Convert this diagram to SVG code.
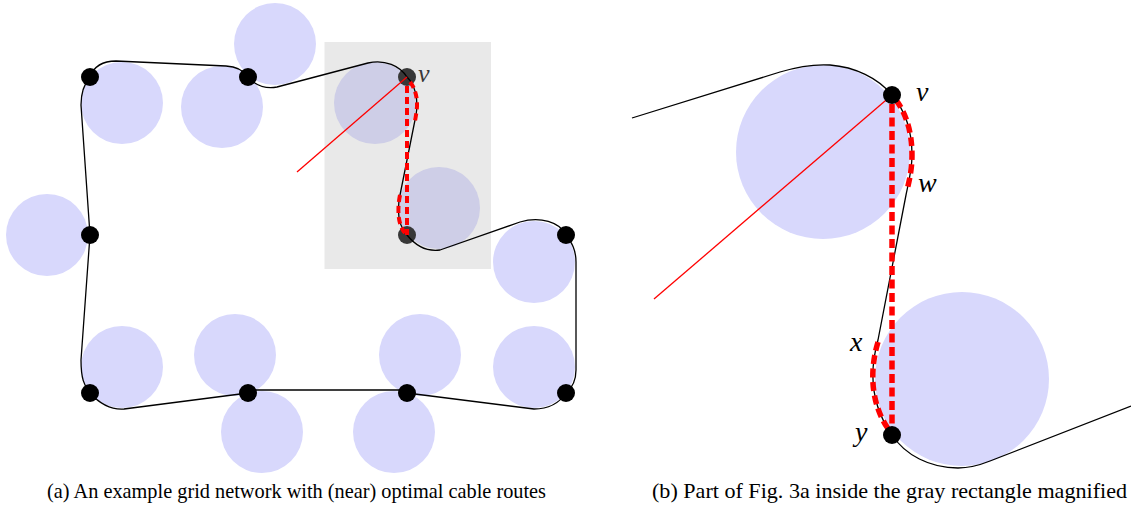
<svg xmlns="http://www.w3.org/2000/svg" width="1131" height="508" viewBox="0 0 1131 508">
<style>
.disk{fill:#d8d8fc}
.node{fill:#000}
.cable{fill:none;stroke:#000;stroke-width:1.3;stroke-linejoin:round}
.ray{fill:none;stroke:#ff0000;stroke-width:1.3}
.dashA{fill:none;stroke:#ff0000;stroke-width:4;stroke-dasharray:7 4}
.dashB{fill:none;stroke:#ff0000;stroke-width:5.5;stroke-dasharray:9 4.5}
.math{font-style:italic;fill:#000}
.cap{font-size:20.3px;fill:#000}
</style>
<rect width="1131" height="508" fill="#fff"/>

<g id="panel-a-disks">
<circle class="disk" cx="275" cy="44" r="41"/>
<circle class="disk" cx="122" cy="103" r="41"/>
<circle class="disk" cx="222" cy="107" r="41"/>
<circle class="disk" cx="375" cy="103" r="41"/>
<circle class="disk" cx="439" cy="208" r="41"/>
<circle class="disk" cx="47" cy="235" r="41"/>
<circle class="disk" cx="534" cy="262" r="41"/>
<circle class="disk" cx="122" cy="367" r="41"/>
<circle class="disk" cx="235" cy="355" r="41"/>
<circle class="disk" cx="262" cy="432" r="41"/>
<circle class="disk" cx="420" cy="355" r="41"/>
<circle class="disk" cx="394" cy="432" r="41"/>
<circle class="disk" cx="534" cy="367" r="41"/>
</g>

<g id="panel-b-disks">
<circle class="disk" cx="823" cy="152" r="87"/>
<circle class="disk" cx="962" cy="379" r="87"/>
</g>

<g id="panel-a-nodes">
<circle id="a1" class="node" cx="90" cy="77" r="9"/>
<circle id="a2" class="node" cx="248" cy="77" r="9"/>
<circle id="a3" class="node" cx="407" cy="77" r="9"/>
<circle id="a4" class="node" cx="90" cy="235" r="9"/>
<circle id="a5" class="node" cx="407" cy="235" r="9"/>
<circle id="a6" class="node" cx="566" cy="235" r="9"/>
<circle id="a7" class="node" cx="90" cy="393" r="9"/>
<circle id="a8" class="node" cx="248" cy="393" r="9"/>
<circle id="a9" class="node" cx="407" cy="393" r="9"/>
<circle id="a10" class="node" cx="566" cy="393" r="9"/>
<text class="math" x="418" y="82" font-size="26" font-family="Liberation Serif">v</text>
</g>

<rect id="gray-rect" x="324.5" y="42" width="166.5" height="227" fill="#b7b7b7" fill-opacity="0.306"/>

<g id="connectors">
<path class="cable" d="M90,77 C94,66 104,61 116,61 L226,66 C236,66.5 244,71 248,77 C255,85 265,89 277,87 L368,63 C385,59 400,66 407,77 C414,84 419,97 416,115 L400,195 C397,210 398,225 407,235 C415,245 425,252 440,250 L520,222 C540,216 560,222 566,235 C572,243 576,250 576,262 L576,370 C576,380 572,388 566,393 C560,402 550,409 534,409 L407,393 L402,390 L254,390 L248,393 L124,409 C110,410 99,403 90,393 C84,386 81,378 81,360 L90,235 L81,105 C81,92 84,84 90,77 Z"/>
<path class="dashA" d="M407,86 L407,235"/>
<path class="dashA" d="M410,82 C415,88 419,99 416,115 L415,121"/>
<path class="dashA" d="M400,195 C397,210 398,225 405,233"/>
<path class="ray" d="M407,77 L297,172"/>

<path class="cable" d="M632,118 L780,72 C800,66 815,64 830,65 C855,67 878,78 892,95 C903,108 912,128 912,155 C912,170 908,185 906,195 L878,340 C869,372 871,405 892,435 C905,455 930,468 958,468 C970,468 980,465 990,461 L1131,406"/>
<path class="dashB" d="M892,104 L892,428"/>
<path class="dashB" d="M896,100 C905,112 912,130 912,155 C912,170 909,182 907,190"/>
<path class="dashB" d="M878,342 C869,372 871,405 889,430"/>
<path class="ray" d="M892,95 L654,299"/>
</g>

<g id="panel-b-nodes" font-family="Liberation Serif">
<circle id="bv" class="node" cx="892" cy="95" r="9"/>
<circle id="by" class="node" cx="892" cy="435" r="9"/>
<text class="math" x="916" y="101" font-size="28">v</text>
<text class="math" x="918" y="192" font-size="28">w</text>
<text class="math" x="850" y="351" font-size="28">x</text>
<text class="math" x="855" y="441" font-size="28">y</text>
</g>

<g id="captions" font-family="Liberation Serif">
<text class="cap" x="47" y="498" textLength="499" lengthAdjust="spacingAndGlyphs">(a) An example grid network with (near) optimal cable routes</text>
<text class="cap" x="652" y="498" textLength="475" lengthAdjust="spacingAndGlyphs">(b) Part of Fig. 3a inside the gray rectangle magnified</text>
</g>
</svg>
